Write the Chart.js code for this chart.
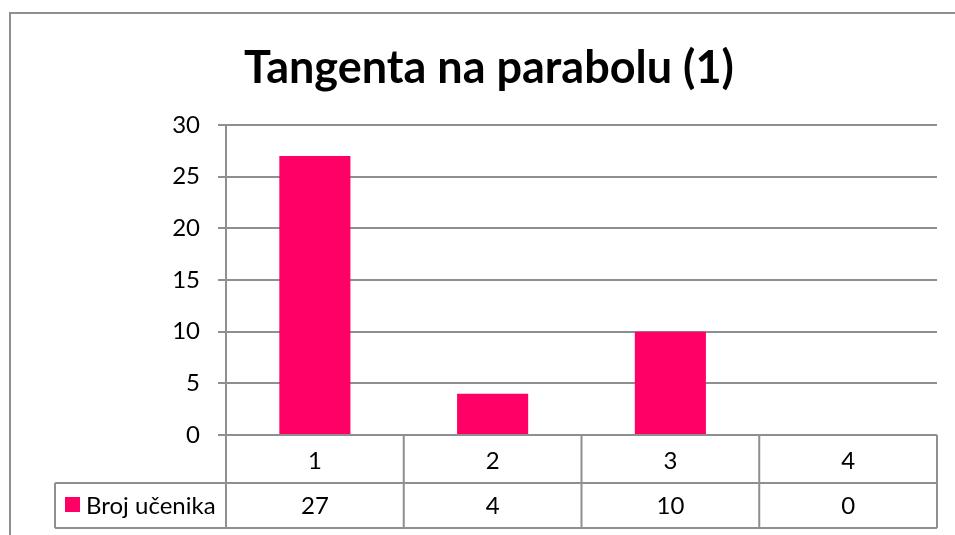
<!DOCTYPE html>
<html>
<head>
<meta charset="utf-8">
<script src="https://cdn.jsdelivr.net/npm/chart.js@4"></script>
<style>
  html, body { margin: 0; padding: 0; background: #fff; }
  #wrap { position: relative; width: 955px; height: 535px; }
</style>
</head>
<body>
<div id="wrap"><canvas id="c" width="955" height="535"></canvas></div>
<script>
const titleText = "Tangenta na parabolu (1)";
const categories = ["1", "2", "3", "4"];
const seriesName = "Broj učenika";
const values = [27, 4, 10, 0];
const yTicks = [0, 5, 10, 15, 20, 25, 30];

const BAR = "#FF0066";
const LINE = "#8f8f8f";
const FONT = "Lato, 'Open Sans', sans-serif";

const frame = {
  id: "frame",
  beforeDraw(chart) {
    const ctx = chart.ctx;
    ctx.save();
    ctx.fillStyle = "#fff";
    ctx.fillRect(0, 0, chart.width, chart.height);
    ctx.strokeStyle = LINE;
    ctx.lineWidth = 2;
    ctx.beginPath();
    ctx.moveTo(10, chart.height);
    ctx.lineTo(10, 13);
    ctx.lineTo(chart.width, 13);
    ctx.stroke();
    ctx.restore();
  },
  afterDraw(chart) {
    const ctx = chart.ctx;
    const x = chart.scales.x, y = chart.scales.y;
    const left = x.left, right = x.right;
    const n = categories.length;
    const w = (right - left) / n;
    const top = y.bottom;
    const mid = top + 48;
    const bot = mid + 45;
    const legLeft = 55;
    ctx.save();
    // title
    ctx.fillStyle = "#000";
    ctx.font = "bold 45px " + FONT;
    ctx.textAlign = "center";
    ctx.textBaseline = "middle";
    ctx.fillText(titleText, 489, 68);
    // table lines
    ctx.strokeStyle = LINE;
    ctx.lineWidth = 2;
    ctx.beginPath();
    ctx.moveTo(legLeft, mid); ctx.lineTo(right, mid);
    ctx.moveTo(legLeft, bot); ctx.lineTo(right, bot);
    ctx.moveTo(legLeft, mid); ctx.lineTo(legLeft, bot);
    for (let i = 0; i <= n; i++) {
      const px = left + i * w;
      ctx.moveTo(px, top); ctx.lineTo(px, bot);
    }
    ctx.moveTo(left, top); ctx.lineTo(right, top);
    ctx.stroke();
    // values
    ctx.fillStyle = "#000";
    ctx.font = "24px " + FONT;
    ctx.textAlign = "center";
    ctx.textBaseline = "middle";
    for (let i = 0; i < n; i++) {
      ctx.fillText(String(values[i]), left + (i + 0.5) * w, (mid + bot) / 2 + 1);
    }
    // legend key
    ctx.fillStyle = BAR;
    ctx.fillRect(65, 497, 15, 15);
    ctx.fillStyle = "#000";
    ctx.textAlign = "left";
    ctx.fillText(seriesName, 86, (mid + bot) / 2 + 1);
    ctx.restore();
  }
};

new Chart(document.getElementById("c"), {
  type: "bar",
  data: {
    labels: categories,
    datasets: [{
      label: seriesName,
      data: values,
      backgroundColor: BAR,
      borderWidth: 0,
      categoryPercentage: 1,
      barPercentage: 0.4
    }]
  },
  options: {
    responsive: false,
    animation: false,
    layout: { padding: { left: 0, right: 18, top: 125, bottom: 0 } },
    plugins: { legend: { display: false }, title: { display: false }, tooltip: { enabled: false } },
    scales: {
      x: {
        grid: { display: false, drawTicks: false },
        border: { display: false },
        ticks: { color: "#000", font: { family: FONT, size: 24 }, padding: 12 },
        afterFit(s) { s.height = 100; }
      },
      y: {
        min: 0, max: 30,
        afterBuildTicks(s) { s.ticks = yTicks.map(v => ({ value: v })); },
        grid: { color: LINE, lineWidth: 2, tickLength: 8 },
        border: { color: LINE, width: 2 },
        ticks: { color: "#000", font: { family: FONT, size: 24 }, padding: 18 },
        afterFit(s) { s.width = 226; }
      }
    }
  },
  plugins: [frame]
});
</script>
</body>
</html>
